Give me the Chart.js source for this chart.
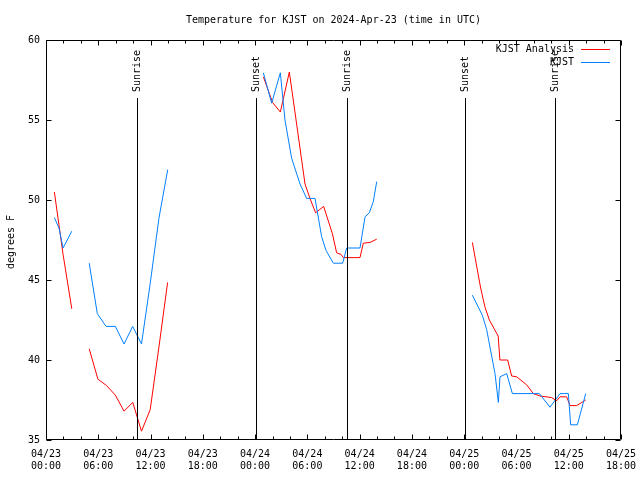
<!DOCTYPE html>
<html><head><meta charset="utf-8">
<script src="https://cdn.jsdelivr.net/npm/chart.js@4/dist/chart.umd.min.js"></script>
<style>html,body{margin:0;padding:0;background:#fff}canvas{display:block}</style>
</head><body>
<canvas id="c" width="640" height="480"></canvas>
<script>
const titleText = 'Temperature for KJST on 2024-Apr-23 (time in UTC)';
const yAxisLabel = 'degrees F';
const seriesNames = ['KJST Analysis', 'KJST'];
const tickLabels = ['04/23 00:00','04/23 06:00','04/23 12:00','04/23 18:00','04/24 00:00','04/24 06:00',
                    '04/24 12:00','04/24 18:00','04/25 00:00','04/25 06:00','04/25 12:00','04/25 18:00'];
const yTicks = [35, 40, 45, 50, 55, 60];

// hours since 04/23 00:00 UTC (null temp = gap in record)
const anaHours = [0.96,1.96,2.96, 3.5,
  4.96,5.96,6.96,7.96,8.96,9.96,10.96,11.96,12.96,13.96, 19,
  24.95,26.0,26.9,27.93,28.96,29.73,30.3,30.95,31.87,32.87,33.36,33.86,34.13,36.04,36.42,37.19,37.96, 43,
  48.94,49.89,50.39,50.89,51.9,52.1,52.99,53.45,54.03,55.17,55.94,56.7,58.04,58.62,59.0,59.76,60.15,60.91,61.95];
const anaTemps = [50.5,46.6,43.2, null,
  40.7,38.8,38.4,37.8,36.8,37.35,35.55,36.9,40.8,44.85, null,
  57.7,56.1,55.5,58.0,54.0,51.0,50.1,49.2,49.6,47.9,46.7,46.6,46.4,46.4,47.3,47.35,47.55, null,
  47.35,44.5,43.3,42.5,41.5,40.0,40.0,39.0,38.95,38.45,37.9,37.75,37.65,37.45,37.7,37.7,37.15,37.15,37.5];

const obsHours = [0.96,1.49,1.96,2.96, 3.5,
  4.96,5.89,6.89,7.96,8.96,9.95,10.96,11.94,12.96,13.97, 19,
  24.95,25.9,26.9,27.43,28.2,29.16,29.92,30.88,31.64,32.14,32.98,34.05,34.51,36.04,36.62,37.11,37.57,37.96, 43,
  48.94,50.08,50.58,51.54,51.92,52.11,52.88,53.53,56.63,57.85,59.0,59.96,60.22,60.99,61.95];
const obsTemps = [48.9,48.25,47.0,48.05, null,
  46.05,42.9,42.1,42.1,41.0,42.1,41.0,44.7,48.85,51.9, null,
  57.95,56.05,57.95,55.0,52.6,51.0,50.1,50.1,47.7,46.85,46.05,46.05,47.0,47.0,48.95,49.2,49.9,51.15, null,
  44.05,42.8,41.9,39.15,37.35,38.95,39.15,37.9,37.9,37.05,37.9,37.9,35.95,35.95,37.9];

const eventHours = [10.48, 24.07, 34.5, 48.04, 58.45];
const eventNames = ['Sunrise', 'Sunset', 'Sunrise', 'Sunset', 'Sunrise'];

const FAMILY = '"DejaVu Sans Mono", "Liberation Mono", monospace';
const FONT = '10px ' + FAMILY;
Chart.defaults.font.family = FAMILY;
Chart.defaults.font.size = 10;
Chart.defaults.color = '#000';

const deco = {
  id: 'deco',
  afterDatasetsDraw(chart) {
    const {ctx, chartArea: a, scales: {x, y}} = chart;
    ctx.save();
    ctx.strokeStyle = '#000';
    ctx.fillStyle = '#000';
    ctx.lineWidth = 1;
    ctx.font = FONT;
    // sunrise / sunset markers
    eventHours.forEach((h, i) => {
      const px = Math.round(x.getPixelForValue(h)) + 0.5;
      ctx.beginPath(); ctx.moveTo(px, a.top + 58); ctx.lineTo(px, a.bottom); ctx.stroke();
      ctx.save();
      ctx.translate(px, a.top + 52);
      ctx.rotate(-Math.PI / 2);
      ctx.textAlign = 'left'; ctx.textBaseline = 'middle';
      ctx.fillText(eventNames[i], 0, 0);
      ctx.restore();
    });
    // border
    const L = Math.round(a.left) + 0.5, R = Math.round(a.right) - 0.5;
    const T = Math.round(a.top) + 0.5, B = Math.round(a.bottom) - 0.5;
    ctx.beginPath(); ctx.rect(L, T, R - L, B - T); ctx.stroke();
    // inward tick marks
    ctx.beginPath();
    x.ticks.forEach(t => {
      const px = Math.round(x.getPixelForValue(t.value)) + 0.5;
      const len = (t.value % 6 === 0) ? 5 : 3;
      ctx.moveTo(px, B); ctx.lineTo(px, B - len);
      ctx.moveTo(px, T); ctx.lineTo(px, T + len);
    });
    yTicks.forEach(v => {
      const py = Math.round(y.getPixelForValue(v)) + 0.5;
      ctx.moveTo(L, py); ctx.lineTo(L + 5, py);
      ctx.moveTo(R, py); ctx.lineTo(R - 5, py);
    });
    ctx.stroke();
    // legend
    const colors = ['#ff0000', '#0080ff'];
    seriesNames.forEach((n, i) => {
      const ly = a.top + 9 + i * 13;
      ctx.textAlign = 'right'; ctx.textBaseline = 'middle';
      ctx.fillStyle = '#000';
      ctx.fillText(n, a.right - 47, ly);
      ctx.strokeStyle = colors[i];
      ctx.beginPath(); ctx.moveTo(a.right - 40, Math.round(ly) + 0.5); ctx.lineTo(a.right - 11, Math.round(ly) + 0.5); ctx.stroke();
    });
    // title
    ctx.fillStyle = '#000';
    ctx.textAlign = 'center'; ctx.textBaseline = 'middle';
    ctx.fillText(titleText, (a.left + a.right) / 2, 20);
    // y axis label
    ctx.save();
    ctx.translate(11, (a.top + a.bottom) / 2 + 2);
    ctx.rotate(-Math.PI / 2);
    ctx.fillText(yAxisLabel, 0, 0);
    ctx.restore();
    ctx.restore();
  }
};

new Chart(document.getElementById('c'), {
  type: 'line',
  data: {
    datasets: [
      {label: seriesNames[0], data: anaHours.map((h, i) => ({x: h, y: anaTemps[i]})),
       borderColor: '#ff0000', borderWidth: 1, pointRadius: 0, tension: 0, spanGaps: false, fill: false, order: 2},
      {label: seriesNames[1], data: obsHours.map((h, i) => ({x: h, y: obsTemps[i]})),
       borderColor: '#0080ff', borderWidth: 1, pointRadius: 0, tension: 0, spanGaps: false, fill: false, order: 1}
    ]
  },
  options: {
    responsive: false, animation: false, events: [],
    layout: {padding: {left: 0, right: 19, top: 40, bottom: 0}},
    plugins: {legend: {display: false}, title: {display: false}, tooltip: {enabled: false}},
    scales: {
      x: {
        type: 'linear', min: 0, max: 66,
        grid: {display: false, drawTicks: false}, border: {display: false},
        ticks: {stepSize: 2, autoSkip: false, maxRotation: 0, minRotation: 0, padding: 8, color: '#000',
                font: {size: 10, lineHeight: 1.25},
                callback: v => (v % 6 === 0 && tickLabels[v / 6]) ? tickLabels[v / 6].split(' ') : ''},
        afterFit(s) { s.height = 40; s.paddingLeft = 0; s.paddingRight = 0; }
      },
      y: {
        min: 35, max: 60,
        grid: {display: false, drawTicks: false}, border: {display: false},
        ticks: {stepSize: 5, padding: 6, color: '#000', font: {size: 10}},
        afterFit(s) { s.width = 46; s.paddingTop = 0; s.paddingBottom = 0; }
      }
    }
  },
  plugins: [deco]
});
</script>
</body></html>
